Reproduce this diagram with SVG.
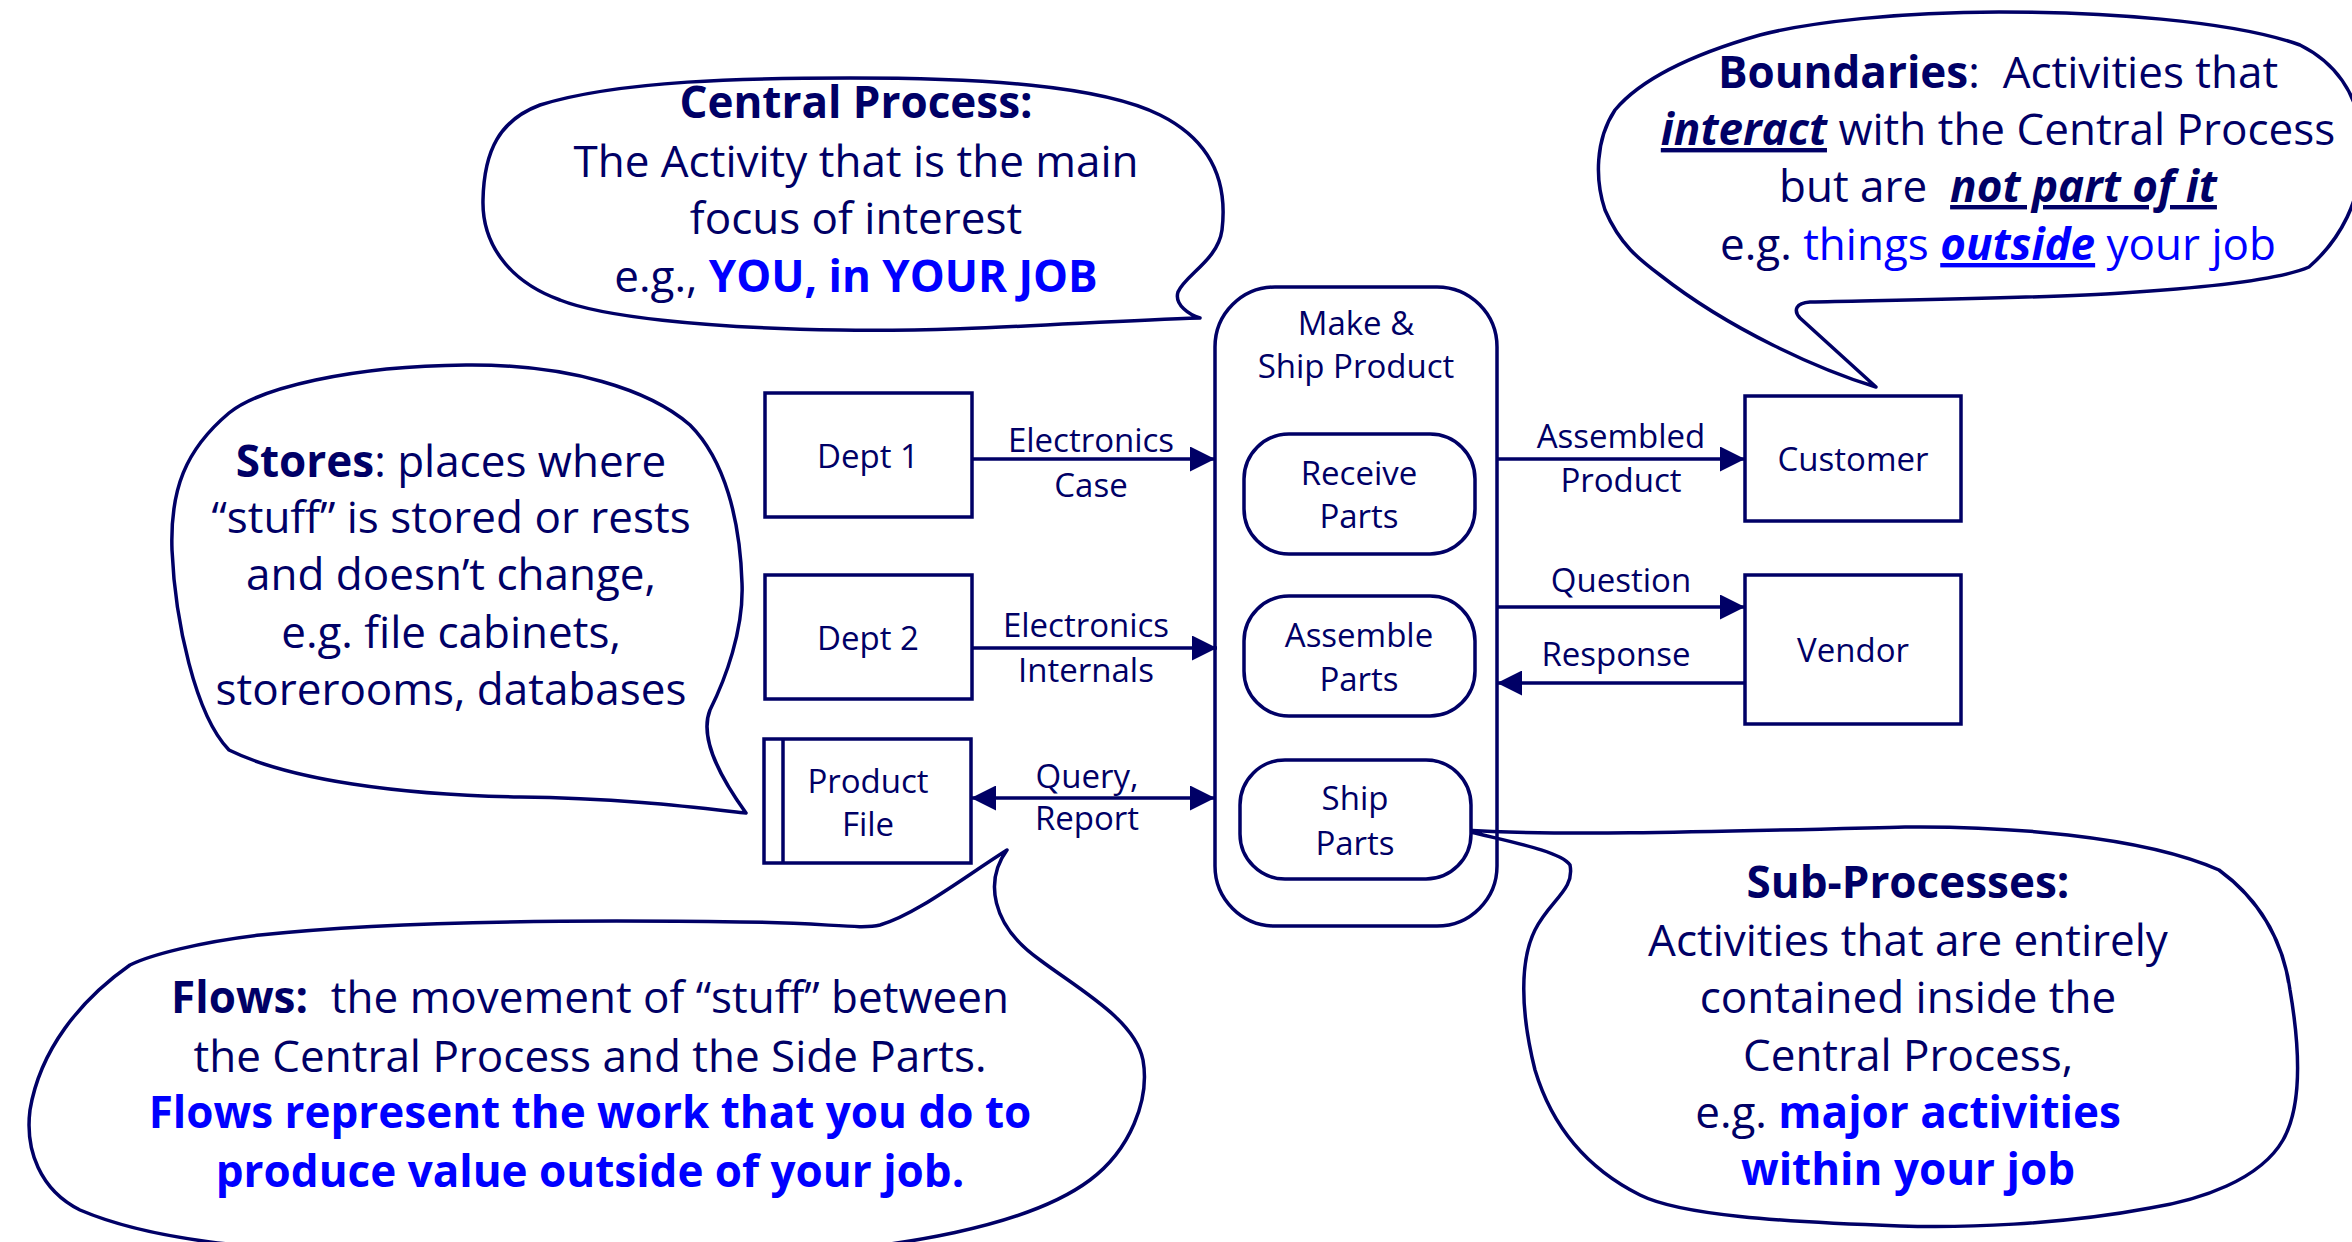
<svg xmlns="http://www.w3.org/2000/svg" width="2352" height="1242" viewBox="0 0 2352 1242">
<style>
.bub{fill:#fff;stroke:#000066;stroke-width:3.5;stroke-linejoin:round}
.box{fill:#fff;stroke:#000066;stroke-width:3.5}
.open{fill:none}
.flow{fill:none;stroke:#000066;stroke-width:3.5}
.lbl{font-family:"Open Sans","Noto Sans","Liberation Sans",sans-serif;font-size:33px;fill:#000066;text-anchor:middle}
.call{font-family:"Open Sans","Noto Sans","Liberation Sans",sans-serif;font-size:44px;fill:#000066;text-anchor:middle;white-space:pre}
.b{font-weight:bold}
.bl{fill:#0000ff}
.bi{font-weight:bold;font-style:italic;text-decoration:underline}
</style>
<defs>
<marker id="ah" viewBox="0 0 25 25" refX="25" refY="12.5" markerWidth="25" markerHeight="25" markerUnits="userSpaceOnUse" orient="auto-start-reverse">
<path d="M0,0 L25,12.5 L0,25 Z" fill="#000066"/>
</marker>
</defs>
<rect width="2352" height="1242" fill="#fff"/>

<g id="callout-central">
<path class="bub" d="M1200,318 C1080,322 960,332 840,330 C700,328 600,316 560,300 C505,280 482,240 483,200 C484,150 500,120 540,105 C620,80 750,78 850,78 C980,78 1100,85 1160,115 C1210,140 1228,180 1222,230 C1218,260 1185,275 1178,292 C1174,305 1190,315 1200,318 Z"/>
<text class="call" x="856" y="118"><tspan class="b">Central Process:</tspan></text>
<text class="call" x="856" y="177">The Activity that is the main</text>
<text class="call" x="856" y="234">focus of interest</text>
<text class="call" x="856" y="292">e.g., <tspan class="b bl">YOU, in YOUR JOB</tspan></text>
</g>

<g id="callout-boundaries">
<path class="bub" d="M1876,387 L1800,318 C1793,310 1796,303 1810,302 C1900,300 2050,298 2122,293 C2200,288 2280,280 2309,267 C2340,240 2362,200 2362,150 C2362,90 2330,60 2300,45 C2230,20 2100,12 1999,12 C1900,12 1810,22 1760,35 C1690,55 1640,80 1615,110 C1595,140 1595,180 1605,210 C1620,245 1640,260 1660,275 C1730,330 1820,370 1876,387 Z"/>
<text class="call" x="1998" y="88"><tspan class="b">Boundaries</tspan>:  Activities that</text>
<text class="call" x="1998" y="145"><tspan class="bi">interact</tspan> with the Central Process</text>
<text class="call" x="1998" y="202">but are  <tspan class="bi">not part of it</tspan></text>
<text class="call" x="1998" y="260">e.g. <tspan class="bl">things </tspan><tspan class="bl bi">outside</tspan><tspan class="bl"> your job</tspan></text>
</g>

<g id="callout-stores">
<path class="bub" d="M746,813 C700,808 620,798 520,797 C400,795 290,780 229,750 C195,715 175,620 172,550 C170,490 185,450 229,413 C260,388 350,366 466,365 C570,364 650,390 690,425 C725,460 740,520 742,583 C744,630 725,680 710,710 C700,735 715,770 746,813 Z"/>
<text class="call" x="451" y="477"><tspan class="b">Stores</tspan>: places where</text>
<text class="call" x="451" y="533">“stuff” is stored or rests</text>
<text class="call" x="451" y="590">and doesn’t change,</text>
<text class="call" x="451" y="648">e.g. file cabinets,</text>
<text class="call" x="451" y="705">storerooms, databases</text>
</g>

<g id="callout-flows">
<path class="bub" d="M1007,850 C960,880 915,915 880,925 C860,930 820,922 740,922 C600,920 400,920 260,935 C200,942 150,955 130,965 C80,1000 40,1050 30,1110 C25,1150 40,1190 80,1210 C150,1240 250,1250 400,1255 L760,1255 C900,1250 1030,1225 1090,1180 C1130,1150 1150,1100 1143,1060 C1135,1020 1080,990 1040,960 C990,925 985,880 1007,850 Z"/>
<text class="call" x="590" y="1013"><tspan class="b">Flows:</tspan>  the movement of “stuff” between</text>
<text class="call" x="590" y="1072">the Central Process and the Side Parts.</text>
<text class="call b bl" x="590" y="1128">Flows represent the work that you do to</text>
<text class="call b bl" x="590" y="1187">produce value outside of your job.</text>
</g>

<g id="callout-subprocesses">
<path class="bub" d="M1463,830 C1560,836 1700,832 1905,827 C2000,826 2140,835 2219,870 C2260,900 2283,940 2290,990 C2302,1060 2300,1110 2283,1140 C2260,1180 2200,1200 2150,1208 C2060,1225 1960,1228 1900,1226 C1780,1222 1680,1215 1640,1195 C1580,1165 1550,1120 1535,1070 C1520,1010 1520,960 1535,930 C1550,900 1575,890 1570,865 C1560,850 1500,840 1463,830 Z"/>
<text class="call b" x="1908" y="898">Sub-Processes:</text>
<text class="call" x="1908" y="956">Activities that are entirely</text>
<text class="call" x="1908" y="1013">contained inside the</text>
<text class="call" x="1908" y="1071">Central Process,</text>
<text class="call" x="1908" y="1128">e.g. <tspan class="b bl">major activities</tspan></text>
<text class="call b bl" x="1908" y="1185">within your job</text>
</g>

<g id="central-process">
<rect class="box open" x="1215" y="287" width="282" height="639" rx="60"/>
<text class="lbl" x="1356" y="335">Make &amp;</text>
<text class="lbl" x="1356" y="378">Ship Product</text>
</g>
<g id="receive-parts">
<rect class="box" x="1244" y="434" width="231" height="120" rx="45"/>
<text class="lbl" x="1359" y="485">Receive</text>
<text class="lbl" x="1359" y="528">Parts</text>
</g>
<g id="assemble-parts">
<rect class="box" x="1244" y="596" width="231" height="120" rx="45"/>
<text class="lbl" x="1359" y="647">Assemble</text>
<text class="lbl" x="1359" y="691">Parts</text>
</g>
<g id="ship-parts">
<rect class="box" x="1240" y="760" width="231" height="119" rx="45"/>
<text class="lbl" x="1355" y="810">Ship</text>
<text class="lbl" x="1355" y="855">Parts</text>
</g>
<g id="dept-1">
<rect class="box" x="765" y="393" width="207" height="124"/>
<text class="lbl" x="868" y="468">Dept 1</text>
</g>
<g id="dept-2">
<rect class="box" x="765" y="575" width="207" height="124"/>
<text class="lbl" x="868" y="650">Dept 2</text>
</g>
<g id="product-file">
<rect class="box" x="764" y="739" width="207" height="124"/>
<line class="box" x1="783" y1="739" x2="783" y2="863"/>
<text class="lbl" x="868" y="793">Product</text>
<text class="lbl" x="868" y="836">File</text>
</g>
<g id="customer">
<rect class="box" x="1745" y="396" width="216" height="125"/>
<text class="lbl" x="1853" y="471">Customer</text>
</g>
<g id="vendor">
<rect class="box" x="1745" y="575" width="216" height="149"/>
<text class="lbl" x="1853" y="662">Vendor</text>
</g>

<g id="connectors">
<line class="flow" x1="972" y1="459" x2="1215" y2="459" marker-end="url(#ah)"/>
<text class="lbl" x="1091" y="452">Electronics</text>
<text class="lbl" x="1091" y="497">Case</text>
<line class="flow" x1="972" y1="648" x2="1217" y2="648" marker-end="url(#ah)"/>
<text class="lbl" x="1086" y="637">Electronics</text>
<text class="lbl" x="1086" y="682">Internals</text>
<line class="flow" x1="971" y1="798" x2="1215" y2="798" marker-start="url(#ah)" marker-end="url(#ah)"/>
<text class="lbl" x="1087" y="788">Query,</text>
<text class="lbl" x="1087" y="830">Report</text>
<line class="flow" x1="1497" y1="459" x2="1745" y2="459" marker-end="url(#ah)"/>
<text class="lbl" x="1621" y="448">Assembled</text>
<text class="lbl" x="1621" y="492">Product</text>
<line class="flow" x1="1497" y1="607" x2="1745" y2="607" marker-end="url(#ah)"/>
<text class="lbl" x="1621" y="592">Question</text>
<line class="flow" x1="1745" y1="683" x2="1497" y2="683" marker-end="url(#ah)"/>
<text class="lbl" x="1616" y="666">Response</text>
</g>
</svg>
